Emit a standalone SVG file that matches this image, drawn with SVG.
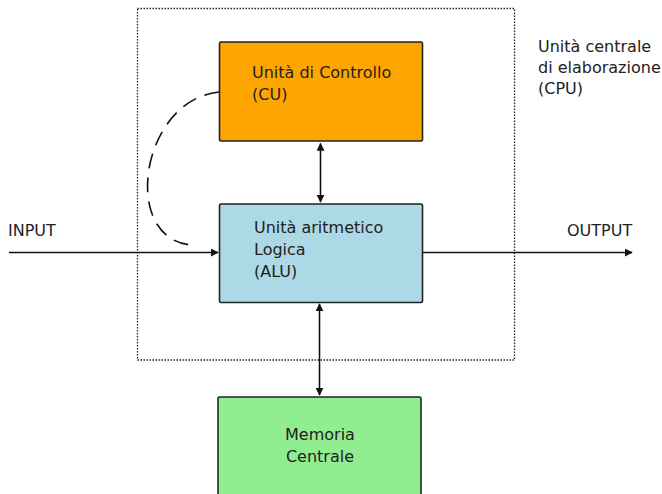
<svg xmlns="http://www.w3.org/2000/svg" width="662" height="494" viewBox="0 0 662 494">
<style>
text{font-family:"DejaVu Sans",sans-serif;font-size:16px;fill:#222}
.box{stroke:#222;stroke-width:1.6}
.ln{stroke:#111;stroke-width:1.6;fill:none}
</style>
<defs>
<marker id="ah" viewBox="0 0 10 10" refX="9" refY="5" markerWidth="8" markerHeight="8" markerUnits="userSpaceOnUse" orient="auto-start-reverse">
<path d="M0,0 L10,5 L0,10 z" fill="#111"/>
</marker>
</defs>
<rect x="0" y="0" width="662" height="494" fill="#fff"/>
<g id="cpu">
<rect x="137.5" y="8.5" width="377" height="351.5" fill="none" stroke="#222" stroke-width="1.3" stroke-dasharray="1.5,1.5"/>
<text x="538" y="52">Unità centrale</text>
<text x="538" y="73">di elaborazione</text>
<text x="538" y="94">(CPU)</text>
</g>
<g id="cu">
<rect class="box" x="219.5" y="42" width="203" height="99" rx="1.5" fill="#FFA500"/>
<text x="252" y="78">Unità di Controllo</text>
<text x="252" y="100">(CU)</text>
</g>
<g id="alu">
<rect class="box" x="219.5" y="204" width="203" height="98.5" rx="1.5" fill="#ADD8E6"/>
<text x="254" y="233">Unità aritmetico</text>
<text x="254" y="255">Logica</text>
<text x="254" y="277">(ALU)</text>
</g>
<g id="mem">
<rect class="box" x="218" y="397" width="203" height="110" rx="1.5" fill="#90EE90"/>
<text x="320" y="440" text-anchor="middle">Memoria</text>
<text x="320" y="462" text-anchor="middle">Centrale</text>
</g>
<g id="io">
<text x="8" y="236">INPUT</text>
<text x="567" y="236">OUTPUT</text>
</g>
<g id="connectors">
<line class="ln" x1="9" y1="252.5" x2="218" y2="252.5" marker-end="url(#ah)"/>
<line class="ln" x1="422.5" y1="252.5" x2="632" y2="252.5" marker-end="url(#ah)"/>
<line class="ln" x1="320.5" y1="143.5" x2="320.5" y2="202" marker-start="url(#ah)" marker-end="url(#ah)"/>
<line class="ln" x1="319.5" y1="304" x2="319.5" y2="395" marker-start="url(#ah)" marker-end="url(#ah)"/>
<path class="ln" d="M219,92 C140,100 120,240 192,245" stroke-dasharray="15,9"/>
</g>
</svg>
